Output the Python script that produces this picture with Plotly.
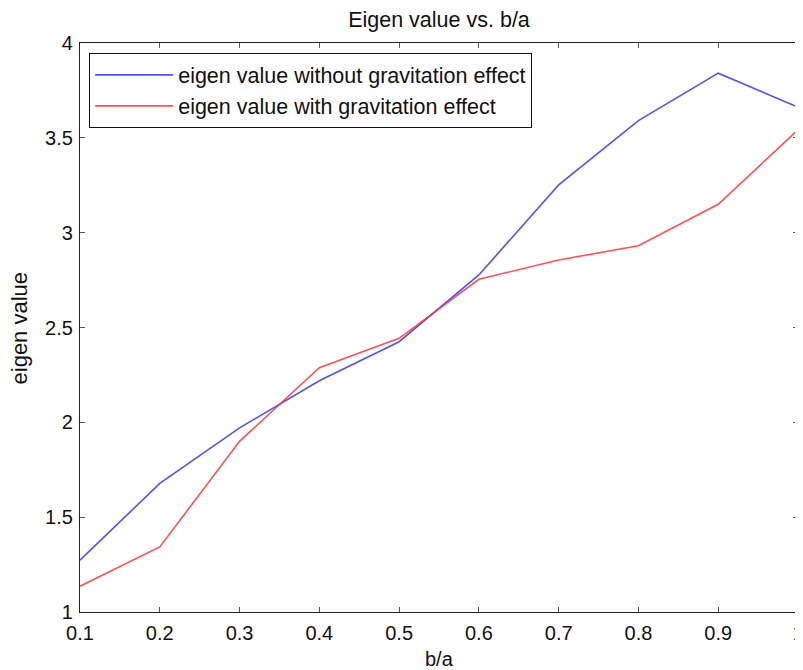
import plotly.graph_objects as go

ba = [0.1, 0.2, 0.3, 0.4, 0.5, 0.6, 0.7, 0.8, 0.9, 1.0]
without_grav = [1.273, 1.678, 1.971, 2.219, 2.425, 2.777, 3.252, 3.591, 3.841, 3.662]
with_grav = [1.136, 1.343, 1.900, 2.288, 2.443, 2.754, 2.856, 2.931, 3.150, 3.542]
x_ticks = [0.1, 0.2, 0.3, 0.4, 0.5, 0.6, 0.7, 0.8, 0.9, 1.0]
x_ticklabels = ["0.1", "0.2", "0.3", "0.4", "0.5", "0.6", "0.7", "0.8", "0.9", "1"]
y_ticks = [1, 1.5, 2, 2.5, 3, 3.5, 4]
y_ticklabels = ["1", "1.5", "2", "2.5", "3", "3.5", "4"]

font_family = "Liberation Sans, Arial, Helvetica, sans-serif"

fig = go.Figure()
fig.add_trace(go.Scatter(x=ba, y=without_grav, mode="lines",
                         name="eigen value without gravitation effect",
                         line=dict(color="rgba(50,50,255,0.85)", width=1.6)))
fig.add_trace(go.Scatter(x=ba, y=with_grav, mode="lines",
                         name="eigen value with gravitation effect",
                         line=dict(color="rgba(255,50,50,0.85)", width=1.6)))

axis_common = dict(showgrid=False, zeroline=False, showline=True, mirror="ticks",
                   linecolor="#222", linewidth=1.2, ticks="inside", ticklen=5,
                   tickcolor="#555", automargin=False, ticklabeloverflow="allow",
                   tickfont=dict(size=20, color="#111", family=font_family))

fig.update_xaxes(range=[0.1, 1.0], tickvals=x_ticks, ticktext=x_ticklabels,
                 ticklabelstandoff=3, **axis_common)
fig.update_yaxes(range=[1, 4], tickvals=y_ticks, ticktext=y_ticklabels,
                 ticklabelstandoff=2, **axis_common)

fig.add_annotation(text="b/a", xref="paper", yref="paper", x=0.5, y=-0.0826,
                   xanchor="center", yanchor="middle", showarrow=False,
                   font=dict(size=20, color="#111", family=font_family))
fig.add_annotation(text="eigen value", xref="paper", yref="paper", x=-0.0836, y=0.5,
                   xanchor="center", yanchor="middle", showarrow=False, textangle=-90,
                   font=dict(size=22, color="#111", family=font_family))

fig.update_layout(
    width=795, height=662,
    margin=dict(l=72, r=5, t=35, b=58),
    paper_bgcolor="white", plot_bgcolor="white",
    title=dict(text="Eigen value vs. b/a", xref="paper", x=0.5, xanchor="center",
               yref="container", y=0.983, yanchor="middle",
               font=dict(size=21.5, color="#111", family=font_family)),
    font=dict(family=font_family, color="#111"),
    legend=dict(x=0.0125, y=0.982, xanchor="left", yanchor="top",
                bgcolor="white", bordercolor="#111", borderwidth=1.2,
                font=dict(size=21.5, color="#111", family=font_family),
                itemwidth=78, tracegroupgap=0),
    showlegend=True,
)

fig.write_html("out.html")
